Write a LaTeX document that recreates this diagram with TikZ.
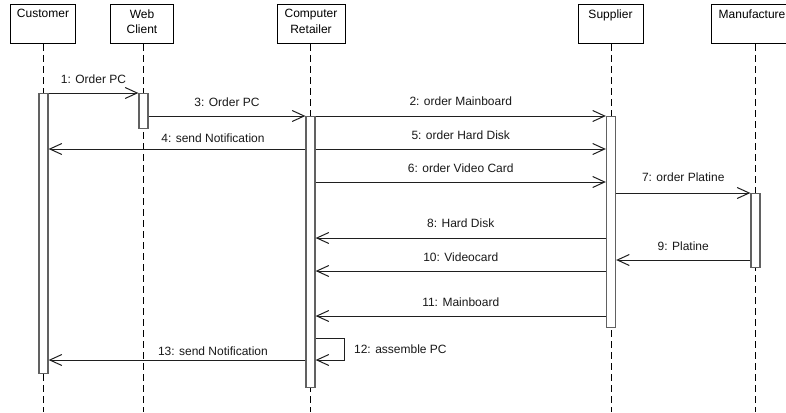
\documentclass[tikz,border=0pt]{standalone}
\usepackage{fontspec}
\setmainfont{Liberation Sans}
\usetikzlibrary{arrows.meta}
\begin{document}
\begin{tikzpicture}[x=1pt,y=-1pt,
  every node/.style={font=\fontsize{12}{15.5}\selectfont},
  headbox/.style={draw=black,line width=1pt,fill=white,minimum height=39pt,inner sep=0pt,anchor=north},
  headtxt/.style={anchor=north,align=center,inner sep=0pt},
  life/.style={draw=black,line width=1pt,dash pattern=on 7pt off 4pt},
  actbar/.style={draw=black!62,line width=1.3pt,fill=white,minimum width=9pt,inner sep=0pt,anchor=north},
  msg/.style={draw=black!88,line width=1pt,-{Straight Barb[length=12pt,width=11pt,line width=1pt]}},
  lbl/.style={anchor=base,inner sep=0pt,text=black!90}]
\useasboundingbox (0,0) rectangle (786,412);
\clip (0,0) rectangle (786,412);
\fill[white] (0,0) rectangle (786,412);

% heads
\node[headbox,minimum width=65pt] (hc) at (43,4) {};
\node[headbox,minimum width=63pt] (hw) at (142,4) {};
\node[headbox,minimum width=68pt] (hr) at (311,4) {};
\node[headbox,minimum width=65pt] (hs) at (610.5,4) {};
\node[headbox,minimum width=86pt] (hm) at (754.5,4) {};

% lifelines
\draw[life] (hc.south -| 43.5,0) -- (43.5,412);
\draw[life] (hw.south -| 143.5,0) -- (143.5,412);
\draw[life] (hr.south -| 310.5,0) -- (310.5,412);
\draw[life] (hs.south -| 611,0) -- (611,412);
\draw[life] (hm.south -| 755.5,0) -- (755.5,412);

% head texts
\node[headtxt] at ([yshift=-5.2pt]hc.north) {Customer};
\node[headtxt] at ([yshift=-5.2pt]hw.north) {Web\\Client};
\node[headtxt] at ([yshift=-5.2pt]hr.north) {Computer\\Retailer};
\node[headtxt] at ([yshift=-5.2pt]hs.north) {Supplier};
\node[headtxt,anchor=north west] at ([xshift=7.5pt,yshift=-5.2pt]hm.north west) {Manufacture};

% activation bars
\node[actbar,minimum height=280pt] (bc) at (43.5,93) {};
\node[actbar,minimum height=35pt] (bw) at (143.5,93) {};
\node[actbar,minimum height=271pt] (br) at (310.5,116) {};
\node[actbar,minimum height=211pt] (bs) at (611,116) {};
\node[actbar,minimum height=74pt] (bm) at (755.5,193) {};

% messages
\draw[msg] (bc.north east) -- node[lbl,yshift=10pt]{1: Order PC} (bw.north west);
\draw[msg] (bw.east |- br.north) -- node[lbl,yshift=10pt]{3: Order PC} (br.north west);
\draw[msg] (br.north east) -- node[lbl,yshift=11pt]{2: order Mainboard} (bs.north west);
\draw[msg] (br.west |- 0,149) -- node[lbl,pos=0.36,yshift=7pt]{4: send Notification} (bc.east |- 0,149);
\draw[msg] (br.east |- 0,149) -- node[lbl,yshift=10pt]{5: order Hard Disk} (bs.west |- 0,149);
\draw[msg] (br.east |- 0,182) -- node[lbl,yshift=10pt]{6: order Video Card} (bs.west |- 0,182);
\draw[msg] (bs.east |- bm.north) -- node[lbl,yshift=12pt]{7: order Platine} (bm.north west);
\draw[msg] (bs.west |- 0,238) -- node[lbl,yshift=11pt]{8: Hard Disk} (br.east |- 0,238);
\draw[msg] (bm.west |- 0,260) -- node[lbl,yshift=10pt]{9: Platine} (bs.east |- 0,260);
\draw[msg] (bs.west |- 0,271) -- node[lbl,yshift=10pt]{10: Videocard} (br.east |- 0,271);
\draw[msg] (bs.west |- 0,316) -- node[lbl,yshift=10pt]{11: Mainboard} (br.east |- 0,316);
\draw[msg] (br.east |- 0,338) -- ++(29,0) -- ++(0,22)
  node[lbl,anchor=base west,pos=0.5,xshift=9pt,yshift=-4pt]{12: assemble PC}
  -- (br.east |- 0,360);
\draw[msg] (br.west |- 0,360) -- node[lbl,pos=0.36,yshift=5pt]{13: send Notification} (bc.east |- 0,360);
\end{tikzpicture}
\end{document}
